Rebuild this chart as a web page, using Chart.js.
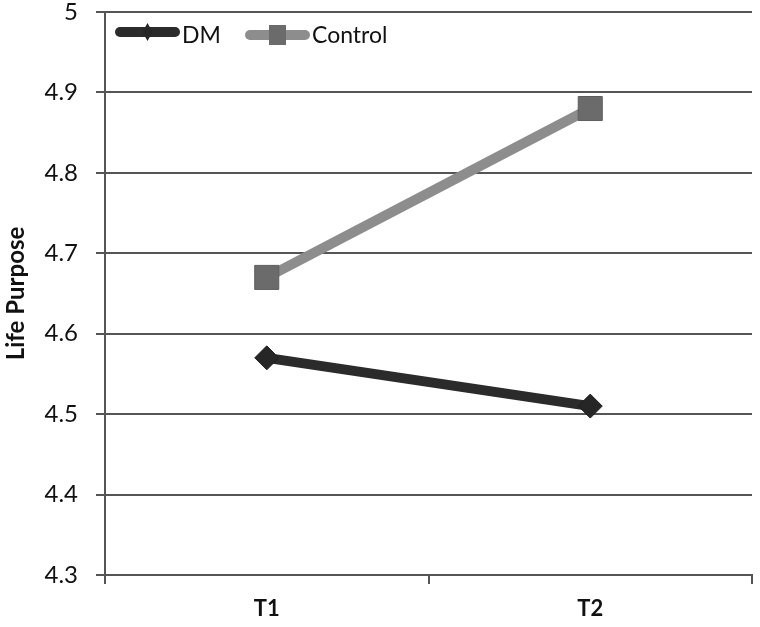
<!DOCTYPE html>
<html>
<head>
<meta charset="utf-8">
<script src="https://cdn.jsdelivr.net/npm/chart.js@4"></script>
<style>
  html, body { margin: 0; padding: 0; background: #fff; }
  #wrap { width: 760px; height: 627px; }
</style>
</head>
<body>
<div id="wrap"><canvas id="graph" width="760" height="627"></canvas></div>
<script>
const categories = ["T1", "T2"];
const dmValues = [4.57, 4.51];
const controlValues = [4.67, 4.88];
const yTicks = [4.3, 4.4, 4.5, 4.6, 4.7, 4.8, 4.9, 5];

const font = "Lato, 'Liberation Sans', sans-serif";

// pin the plot box to where the original has it
const fixArea = {
  id: "fixArea",
  afterLayout(chart) {
    const L = 105, T = 12, R = 752, B = 575;
    const { x, y } = chart.scales;
    Object.assign(x, { left: L, right: R, width: R - L, top: B, bottom: 627, height: 627 - B });
    Object.assign(y, { left: 0, right: L, width: L, top: T, bottom: B, height: B - T });
    x.configure();
    y.configure();
    Object.assign(chart.chartArea, { left: L, top: T, right: R, bottom: B, width: R - L, height: B - T });
  }
};

// legend drawn as a thick line with the marker on top, spreadsheet style
const lineLegend = {
  id: "lineLegend",
  afterDraw(chart) {
    const ctx = chart.ctx;
    const items = [
      { x0: 115, y: 32, textX: 182 },
      { x0: 245, y: 35, textX: 312 },
    ];
    chart.data.datasets.forEach((ds, i) => {
      const it = items[i];
      const x1 = it.x0 + 65, cx = (it.x0 + x1) / 2;
      ctx.save();
      ctx.strokeStyle = ds.borderColor;
      ctx.lineWidth = 10;
      ctx.lineCap = "round";
      ctx.beginPath();
      ctx.moveTo(it.x0 + 5, it.y);
      ctx.lineTo(x1 - 5, it.y);
      ctx.stroke();
      ctx.fillStyle = ds.pointBackgroundColor;
      ctx.beginPath();
      if (i === 0) {
        ctx.moveTo(cx, it.y - 9);
        ctx.lineTo(cx + 5, it.y);
        ctx.lineTo(cx, it.y + 9);
        ctx.lineTo(cx - 5, it.y);
        ctx.closePath();
      } else {
        ctx.rect(cx - 8.5, it.y - 10, 17, 20);
      }
      ctx.fill();
      ctx.fillStyle = "#111";
      ctx.font = "23px " + font;
      ctx.textBaseline = "alphabetic";
      ctx.fillText(ds.label, it.textX, 43);
      ctx.restore();
    });
  }
};

const ctx = document.getElementById("graph").getContext("2d");

new Chart(ctx, {
  type: "line",
  data: {
    labels: categories,
    datasets: [
      {
        label: "DM",
        data: dmValues,
        borderColor: "#2b2b2b",
        borderWidth: 10,
        pointStyle: "rectRot",
        pointRadius: 12,
        pointBackgroundColor: "#262626",
        pointBorderColor: "#1e1e1e",
        pointBorderWidth: 1,
      },
      {
        label: "Control",
        data: controlValues,
        borderColor: "#8d8d8d",
        borderWidth: 10,
        pointStyle: "rect",
        pointRadius: 17,
        pointBackgroundColor: "#6b6b6b",
        pointBorderColor: "#5e5e5e",
        pointBorderWidth: 1,
      },
    ],
  },
  options: {
    responsive: false,
    animation: false,
    layout: { padding: { top: 12, right: 8, left: 0, bottom: 0 } },
    plugins: {
      legend: { display: false },
      tooltip: { enabled: false },
    },
    scales: {
      x: {
        offset: true,
        grid: {
          offset: true,
          drawOnChartArea: false,
          tickLength: 9,
          color: "#555",
          lineWidth: 2,
        },
        border: { color: "#555", width: 2 },
        ticks: {
          color: "#111",
          font: { family: font, size: 22, weight: "bold" },
          padding: 12,
        },
        afterFit(scale) { scale.height = 52; },
      },
      y: {
        min: 4.3,
        max: 5,
        afterBuildTicks(scale) {
          scale.ticks = yTicks.map(v => ({ value: v }));
        },
        grid: {
          color: "#555",
          lineWidth: 2,
          tickLength: 9,
        },
        border: { color: "#555", width: 2 },
        ticks: {
          color: "#111",
          font: { family: font, size: 24 },
          padding: 18,
          callback: v => String(Math.round(v * 10) / 10),
        },
        title: {
          display: true,
          text: "Life Purpose",
          color: "#111",
          font: { family: font, size: 24, weight: "bold" },
          padding: { top: 2, bottom: 0 },
        },
        afterFit(scale) { scale.width = 105; },
      },
    },
  },
  plugins: [fixArea, lineLegend],
});
</script>
</body>
</html>
